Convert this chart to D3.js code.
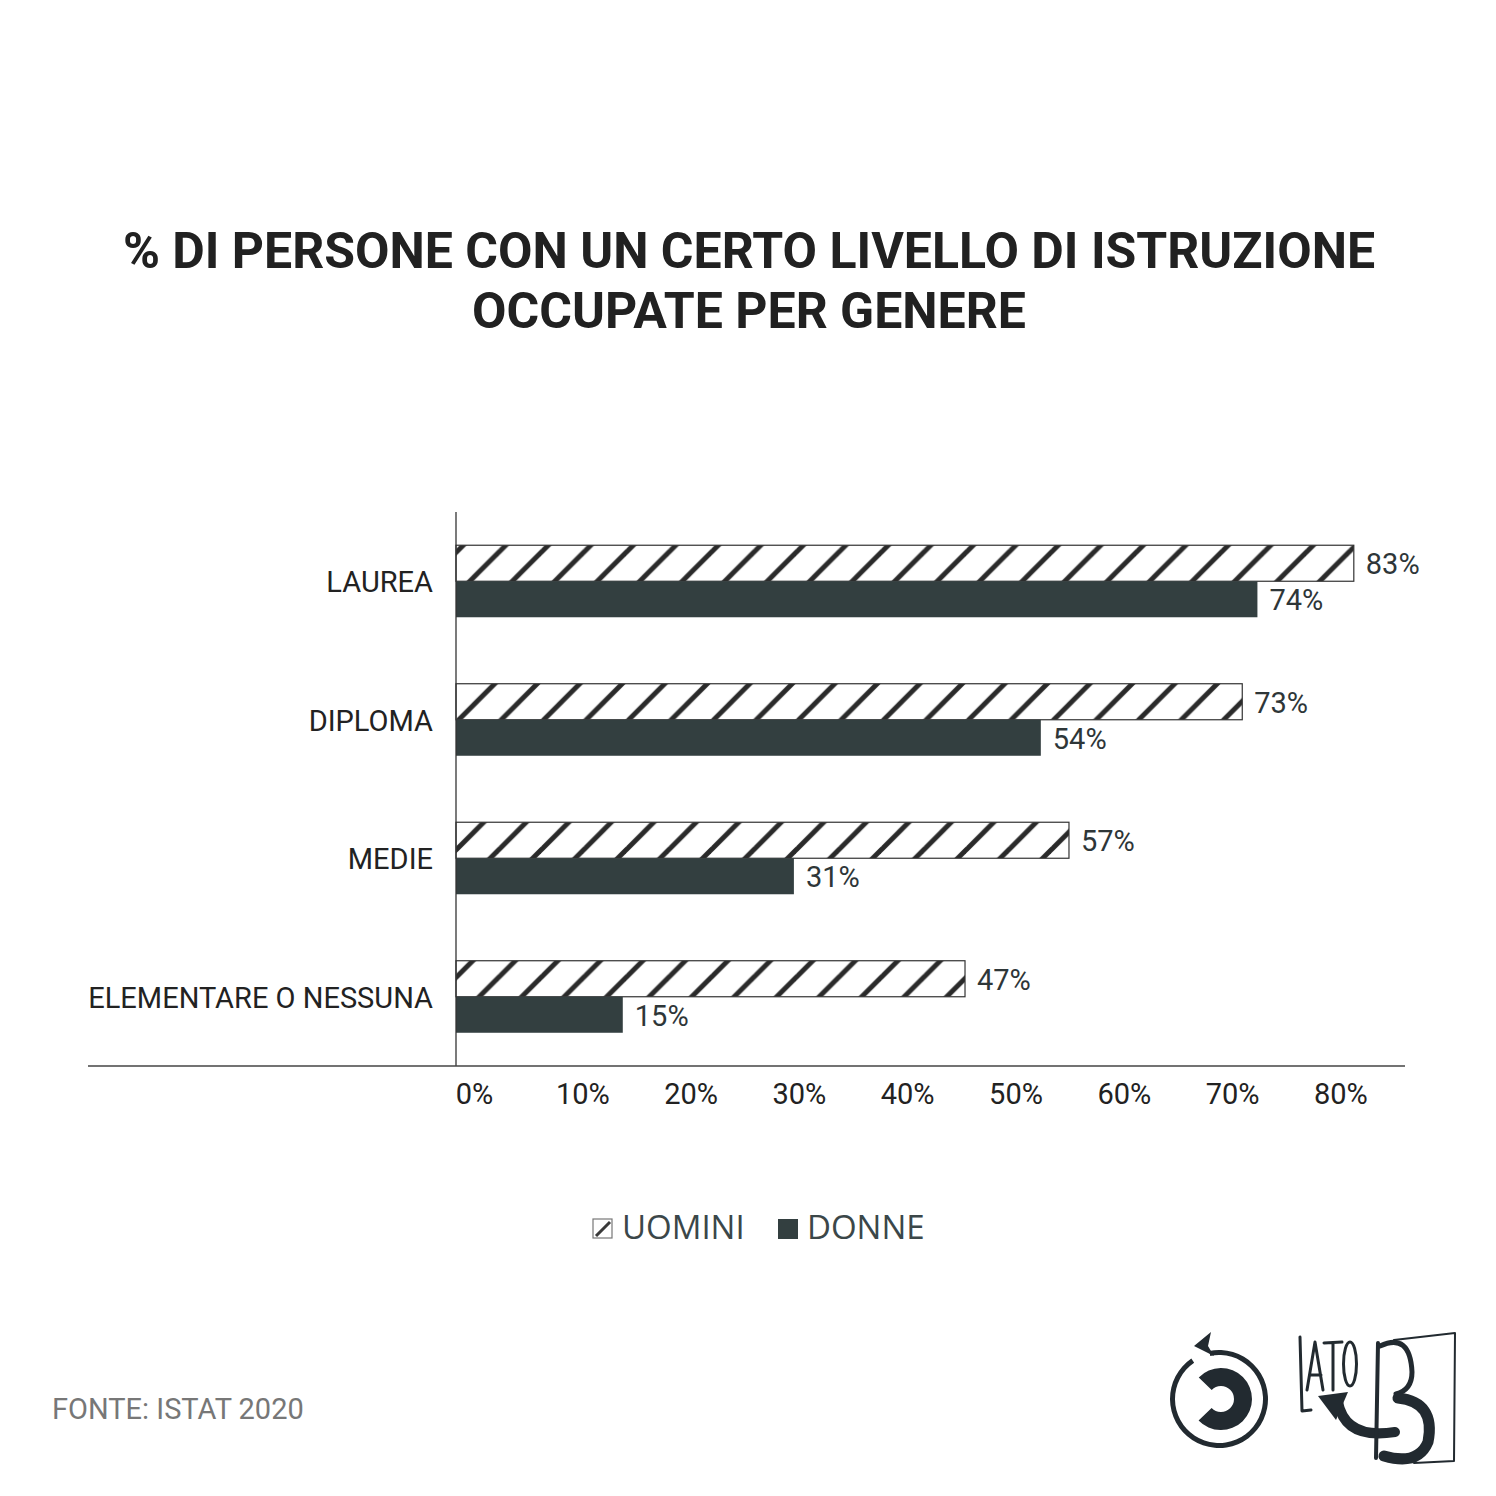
<!DOCTYPE html>
<html><head><meta charset="utf-8">
<script src="https://cdn.jsdelivr.net/npm/d3@7"></script>
<style>html,body{margin:0;padding:0;background:#fff}svg{display:block}</style>
</head><body><div id="chart"></div>
<script>
const titleLines = ["% DI PERSONE CON UN CERTO LIVELLO DI ISTRUZIONE", "OCCUPATE PER GENERE"];
const categories = ["LAUREA", "DIPLOMA", "MEDIE", "ELEMENTARE O NESSUNA"];
const seriesNames = ["UOMINI", "DONNE"];
const uomini = [82.9, 72.6, 56.6, 47.0];
const donne = [74.0, 54.0, 31.2, 15.4];
const ticks = [0, 10, 20, 30, 40, 50, 60, 70, 80];
const tickLabels = ["0%", "10%", "20%", "30%", "40%", "50%", "60%", "70%", "80%"];
const source = "FONTE: ISTAT 2020";

const W = 1496, H = 1496;
const svg = d3.select("#chart").append("svg").attr("width", W).attr("height", H);
svg.append("rect").attr("width", W).attr("height", H).attr("fill", "#fff");

const defs = svg.append("defs");
const pat = defs.append("pattern").attr("id", "hatch").attr("patternUnits", "userSpaceOnUse")
  .attr("width", 42.5).attr("height", 42.5).attr("x", 456).attr("y", 0);
pat.append("rect").attr("width", 42.5).attr("height", 42.5).attr("fill", "#fff");
[[0, 42.5, 42.5, 0], [-10, 10, 10, -10], [32.5, 52.5, 52.5, 32.5]].forEach(l =>
  pat.append("line").attr("x1", l[0]).attr("y1", l[1]).attr("x2", l[2]).attr("y2", l[3])
    .attr("stroke", "#2a2a2a").attr("stroke-width", 5));
const patL = defs.append("pattern").attr("id", "hatchL").attr("patternUnits", "userSpaceOnUse")
  .attr("width", 19).attr("height", 19).attr("x", 593).attr("y", 1219);
patL.append("rect").attr("width", 19).attr("height", 19).attr("fill", "#fff");
patL.append("line").attr("x1", 3).attr("y1", 17).attr("x2", 17).attr("y2", 3)
  .attr("stroke", "#3a3a3a").attr("stroke-width", 3);

// Title
const title = svg.append("text").attr("text-anchor", "middle")
  .attr("font-family", "Roboto").attr("font-weight", 700).attr("font-size", 50).attr("fill", "#212121");
titleLines.forEach((t, i) => title.append("tspan").attr("x", 749).attr("y", 268 + i * 60).text(t));

// Scales
const x = d3.scaleLinear().domain([0, 100]).range([456, 456 + 1083]);
const y = d3.scaleBand().domain(categories).range([512, 1066]).paddingInner(0.48).paddingOuter(0.24);
const ys = d3.scaleBand().domain(seriesNames).range([0, y.bandwidth()]);
const dark = "#333f40";

const data = categories.map((c, i) => ({ c, vals: [uomini[i], donne[i]] }));
const g = svg.append("g");
data.forEach(d => {
  d.vals.forEach((v, j) => {
    const yy = y(d.c) + ys(seriesNames[j]);
    g.append("rect").attr("x", x(0)).attr("y", yy).attr("width", x(v) - x(0)).attr("height", ys.bandwidth())
      .attr("fill", j === 0 ? "url(#hatch)" : dark)
      .attr("stroke", j === 0 ? "#333" : "none").attr("stroke-width", 1.2);
    g.append("text").attr("x", x(v) + 12).attr("y", yy + ys.bandwidth() / 2 + 11)
      .attr("font-family", "Roboto").attr("font-size", 29).attr("fill", "#2e3638")
      .text(Math.round(v) + "%");
  });
});

// Category labels
svg.append("g").selectAll("text").data(categories).join("text")
  .attr("x", 433).attr("y", d => y(d) + y.bandwidth() / 2 + 11)
  .attr("text-anchor", "end").attr("font-family", "Roboto").attr("font-size", 29).attr("fill", "#222")
  .text(d => d);

// Axis lines
svg.append("line").attr("x1", 456).attr("x2", 456).attr("y1", 512).attr("y2", 1066)
  .attr("stroke", "#333").attr("stroke-width", 1.3);
svg.append("line").attr("x1", 88).attr("x2", 1405).attr("y1", 1066).attr("y2", 1066)
  .attr("stroke", "#444").attr("stroke-width", 1.5);

// x axis tick labels
const xAxis = d3.axisBottom(x).tickValues(ticks).tickSize(0).tickFormat((d, i) => tickLabels[i]);
const ax = svg.append("g").attr("transform", "translate(0,1066)").call(xAxis);
ax.select(".domain").remove();
ax.selectAll("text").attr("font-family", "Roboto").attr("font-size", 29).attr("fill", "#222")
  .attr("dx", 18).attr("dy", 0).attr("y", 38);

// Legend
svg.append("rect").attr("x", 593).attr("y", 1219).attr("width", 19).attr("height", 19)
  .attr("fill", "url(#hatchL)").attr("stroke", "#777").attr("stroke-width", 1.2);
svg.append("text").attr("x", 622).attr("y", 1239).attr("font-family", "Open Sans").attr("font-size", 33)
  .attr("fill", "#3b4749").text(seriesNames[0]);
svg.append("rect").attr("x", 778).attr("y", 1219).attr("width", 20).attr("height", 20).attr("fill", dark);
svg.append("text").attr("x", 807).attr("y", 1239).attr("font-family", "Open Sans").attr("font-size", 33)
  .attr("fill", "#3b4749").text(seriesNames[1]);

// Source
svg.append("text").attr("x", 52).attr("y", 1419).attr("font-family", "Roboto").attr("font-size", 29)
  .attr("fill", "#777").text(source);

// Logos (approximate)
const ink = "#222a30";
const lg = svg.append("g").attr("fill", "none").attr("stroke", ink).attr("stroke-linecap", "round").attr("stroke-linejoin", "round");
lg.append("path").attr("d", d3.arc()({ innerRadius: 44, outerRadius: 49, startAngle: -0.2, endAngle: 2 * Math.PI - 0.6 }))
  .attr("transform", "translate(1219,1399)").attr("fill", ink).attr("stroke", "none");
lg.append("path").attr("d", "M1194,1346 L1211,1332 L1208,1346 L1214,1356 Z").attr("fill", ink).attr("stroke", "none");
lg.append("path").attr("d", d3.arc()({ innerRadius: 13, outerRadius: 31, startAngle: -0.8, endAngle: 3.95 }))
  .attr("transform", "translate(1221,1399)").attr("fill", ink).attr("stroke", "none");
// LATO
lg.append("path").attr("d", "M1300,1337 L1302,1411 L1311,1410").attr("stroke-width", 3);
lg.append("path").attr("d", "M1307,1390 L1315,1342 L1323,1390 M1310,1375 L1321,1375").attr("stroke-width", 3);
lg.append("path").attr("d", "M1324,1343 L1342,1342 M1333,1343 L1333,1390").attr("stroke-width", 3);
lg.append("ellipse").attr("cx", 1350).attr("cy", 1364).attr("rx", 6.5).attr("ry", 22).attr("stroke-width", 3);
// arrow
lg.append("path").attr("d", "M1338,1402 Q1345,1440 1395,1432").attr("stroke-width", 10);
lg.append("path").attr("d", "M1318,1396 L1348,1392 L1336,1420 Z").attr("fill", ink).attr("stroke", "none");
// B + book
lg.append("path").attr("d", "M1378,1343 L1376,1458").attr("stroke-width", 4);
lg.append("path").attr("d", "M1380,1346 Q1410,1332 1412,1372 Q1412,1390 1396,1394").attr("stroke-width", 5);
lg.append("path").attr("d", "M1398,1398 Q1436,1402 1428,1442 Q1418,1466 1384,1456").attr("stroke-width", 11);
lg.append("path").attr("d", "M1394,1340 L1455,1333 L1454,1461 L1414,1463").attr("stroke-width", 2);
</script>
</body></html>
